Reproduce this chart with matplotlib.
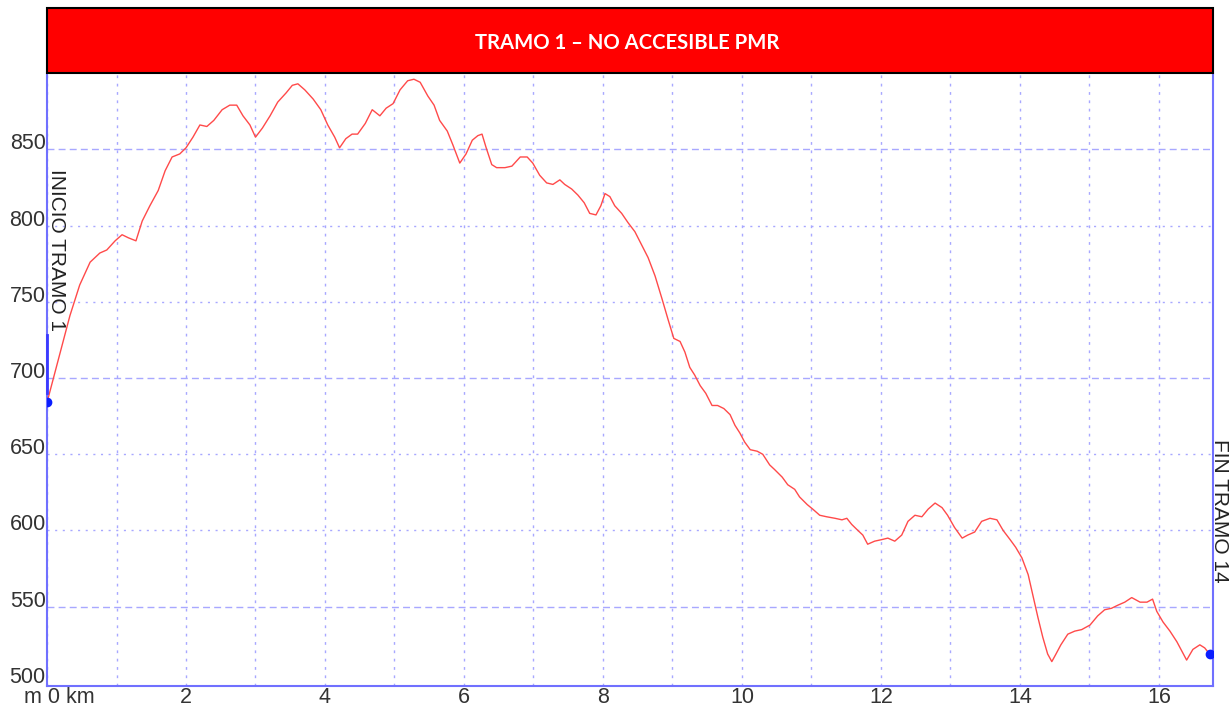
import numpy as np
import matplotlib.pyplot as plt
from matplotlib.patches import Rectangle
from matplotlib.transforms import ScaledTranslation

# perfil tramo 1: distancia (km) y altitud (m)
dist_km = [0.0, 0.33, 0.47, 0.62, 0.76, 0.86, 0.98, 1.08, 1.17, 1.28, 1.37, 1.48, 1.6, 1.7, 1.8,
           1.91, 2.0, 2.1, 2.2, 2.3, 2.4, 2.52, 2.63, 2.73, 2.82, 2.92, 3.0, 3.1, 3.21, 3.32,
           3.44, 3.53, 3.61, 3.71, 3.83, 3.94, 4.04, 4.14, 4.21, 4.3, 4.39, 4.47, 4.58, 4.68,
           4.79, 4.88, 4.98, 5.08, 5.19, 5.28, 5.37, 5.48, 5.57, 5.65, 5.76, 5.84, 5.94, 6.03,
           6.12, 6.2, 6.26, 6.32, 6.4, 6.47, 6.59, 6.69, 6.81, 6.91, 6.99, 7.09, 7.19, 7.28,
           7.38, 7.45, 7.55, 7.64, 7.73, 7.81, 7.9, 7.97, 8.03, 8.1, 8.17, 8.27, 8.36, 8.46,
           8.56, 8.65, 8.75, 8.85, 8.94, 9.02, 9.11, 9.18, 9.25, 9.32, 9.4, 9.48, 9.57, 9.65,
           9.74, 9.83, 9.9, 9.97, 10.04, 10.12, 10.22, 10.3, 10.4, 10.47, 10.58, 10.66, 10.76,
           10.83, 10.94, 11.02, 11.12, 11.22, 11.34, 11.44, 11.51, 11.58, 11.67, 11.74, 11.81,
           11.91, 12.01, 12.1, 12.2, 12.3, 12.39, 12.49, 12.59, 12.68, 12.78, 12.88, 12.96,
           13.06, 13.17, 13.25, 13.35, 13.45, 13.57, 13.67, 13.76, 13.86, 13.94, 14.03, 14.12,
           14.19, 14.26, 14.33, 14.4, 14.46, 14.52, 14.59, 14.69, 14.79, 14.89, 15.01, 15.12,
           15.22, 15.32, 15.41, 15.51, 15.61, 15.73, 15.83, 15.91, 15.97, 16.06, 16.16, 16.26,
           16.33, 16.4, 16.49, 16.59, 16.66, 16.73]
alt_m = [684, 741, 761, 776, 782, 784, 790, 794, 792, 790, 803, 813, 823, 836, 845,
         847, 851, 858, 866, 865, 869, 876, 879, 879, 872, 866, 858, 864, 872, 881,
         887, 892, 893, 889, 883, 876, 866, 858, 851, 857, 860, 860, 867, 876,
         872, 877, 880, 889, 895, 896, 894, 885, 879, 869, 862, 853, 841, 847,
         856, 859, 860, 851, 840, 838, 838, 839, 845, 845, 841, 833, 828, 827,
         830, 827, 824, 820, 815, 808, 807, 813, 821, 819, 813, 808, 802, 796,
         787, 779, 767, 752, 738, 726, 724, 717, 707, 702, 695, 690, 682, 682,
         680, 676, 669, 664, 658, 653, 652, 650, 643, 640, 635, 630, 627,
         622, 617, 614, 610, 609, 608, 607, 608, 604, 600, 597, 591,
         593, 594, 595, 593, 597, 606, 610, 609, 614, 618, 615, 610,
         602, 595, 597, 599, 606, 608, 607, 600, 594, 589, 582, 571,
         557, 543, 530, 519, 514, 519, 525, 532, 534, 535, 538, 544,
         548, 549, 551, 553, 556, 553, 553, 555, 547, 540, 534, 527,
         521, 515, 522, 525, 523, 519]

x_ticks = list(range(0, 17, 2))
x_labels = ['m 0 km'] + [str(v) for v in x_ticks[1:]]
y_ticks = list(range(500, 851, 50))

titulo = 'TRAMO 1 – NO ACCESIBLE PMR'
etiqueta_ini = 'INICIO TRAMO 1'
etiqueta_fin = 'FIN TRAMO 14'

azul = '#7070ff'
grid_c = '#a8a8ff'

fig = plt.figure(figsize=(12.31, 7.10), dpi=100, facecolor='white')
ax = fig.add_axes([0.0382, 0.0338, 0.9472, 0.8632])

# rejilla
for k in range(0, 17):
    ax.axvline(k, color=grid_c, lw=1, ls=(0, (2, 4)), zorder=1)
for v in range(550, 851, 50):
    estilo = (0, (5, 3)) if v in (550, 700, 850) else (0, (1.5, 4))
    ax.axhline(v, color=grid_c, lw=1, ls=estilo, zorder=1)

ax.plot(dist_km, alt_m, color='#ff4a4a', lw=1, zorder=3)
ax.plot([dist_km[0], dist_km[-1]], [alt_m[0], alt_m[-1]], 'o', color='#0a1eff', ms=6, zorder=4)
ax.plot([0, 0], [690, 728], color='#3a3aff', lw=2, zorder=4, clip_on=False)

ax.set_xlim(0, 16.78)
ax.set_ylim(498, 900)
ax.set_xticks(x_ticks)
ax.set_xticklabels(x_labels)
ax.set_yticks(y_ticks)
ax.tick_params(length=0, labelsize=15.5, colors='#333333')
ax.tick_params(axis='x', pad=1)
ax.tick_params(axis='y', pad=1)
for lab in ax.get_xticklabels() + ax.get_yticklabels():
    lab.set_family('Liberation Sans')
for lab in ax.get_yticklabels():
    lab.set_va('baseline')
primera = ax.get_xticklabels()[0]
primera.set_transform(primera.get_transform() + ScaledTranslation(0.12, 0, fig.dpi_scale_trans))

for s in ['left', 'bottom', 'right']:
    ax.spines[s].set_color(azul)
    ax.spines[s].set_linewidth(1.5)
ax.spines['top'].set_visible(False)

ax.text(0.0, 784, etiqueta_ini, rotation=270, ha='left', va='center', fontsize=15,
        family='Liberation Sans', color='#222222')
ax.text(16.88, 613, etiqueta_fin, rotation=270, ha='center', va='center', fontsize=15,
        family='Liberation Sans', color='#222222', clip_on=False)

# caja del titulo
fig.patches.append(Rectangle((0.0382, 0.897), 0.9472, 0.0915, transform=fig.transFigure,
                             facecolor='#ff0000', edgecolor='black', lw=1.5))
fig.text(0.5095, 0.940, titulo, ha='center', va='center', color='white', fontsize=14.6,
         fontweight='bold', family='Lato')

fig.savefig('out.png', dpi=100)
